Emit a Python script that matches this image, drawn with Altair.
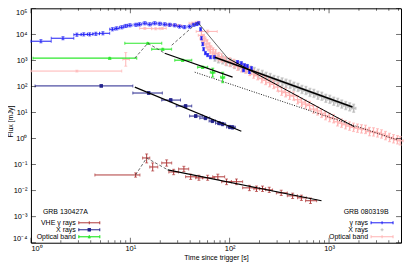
import altair as alt
import pandas as pd

# ---------------- data ----------------
# GRB 130427A -- VHE gamma rays (t [s], flux [mJy])
vhe_t   = [11.3, 14.6, 16.8, 23.2, 27.3, 34.6, 40.5, 49, 60, 76, 93, 117, 158, 186, 214, 250, 330, 430, 527, 650]
vhe_tlo = [4.4, 13.3, 15.7, 20.7, 24.4, 30.6, 36, 45.4, 53.5, 67.5, 83, 104, 135, 175, 200, 230, 295, 380, 482, 580]
vhe_thi = [12.5, 15.7, 18.9, 26.1, 30.6, 38.7, 46.5, 53.5, 70.7, 89, 104, 135, 186, 200, 230, 270, 380, 480, 590, 750]
vhe_F   = [0.040, 0.18, 0.081, 0.116, 0.052, 0.068, 0.034, 0.031, 0.031, 0.034, 0.022, 0.022, 0.0128, 0.0118, 0.0118, 0.0107, 0.0082, 0.0063, 0.0053, 0.0041]
vhe_Flo = [0.033, 0.116, 0.057, 0.087, 0.041, 0.054, 0.027, 0.025, 0.025, 0.027, 0.017, 0.017, 0.010, 0.0093, 0.0093, 0.0085, 0.0065, 0.0050, 0.0042, 0.0032]
vhe_Fhi = [0.048, 0.256, 0.116, 0.152, 0.066, 0.086, 0.043, 0.039, 0.039, 0.043, 0.028, 0.028, 0.016, 0.015, 0.015, 0.0135, 0.0104, 0.0080, 0.0067, 0.0052]

# GRB 130427A -- X rays
xr_t   = [5.1, 15.3, 25.5, 36, 45.5, 57, 67, 78, 85, 100, 107]
xr_tlo = [1.1, 10.6, 20.7, 29, 39.5, 50, 62, 72, 80, 93, 101]
xr_thi = [10.6, 21, 32, 41.5, 53.5, 63, 72, 84, 91, 107, 114]
xr_F   = [105, 56, 30, 17.7, 7.3, 6.1, 4.7, 3.9, 3.6, 2.8, 2.7]
xr_Flo = [96, 50, 26, 15.5, 6.4, 5.3, 4.1, 3.4, 3.1, 2.4, 2.3]
xr_Fhi = [115, 63, 34, 20, 8.3, 7.0, 5.4, 4.5, 4.1, 3.2, 3.1]

# GRB 130427A -- optical band
op_t   = [6.2, 15, 21.2, 33.6, 53.5, 67.5, 85]
op_tlo = [1.05, 8.8, 16.4, 28, 47.5, 64, 81]
op_thi = [11.6, 20.7, 26, 41.5, 60, 71, 89]
op_F   = [1220, 4570, 2700, 1020, 550, 354, 228]
op_Flo = [1150, 4300, 2500, 940, 500, 230, 140]
op_Fhi = [1300, 4850, 2900, 1100, 600, 500, 350]

# GRB 080319B -- gamma rays
g8_t   = [1.26, 2.1, 2.9, 3.4, 3.9, 4.5, 5.3, 6.6, 7.3, 8.2, 9.0, 9.9, 11.4, 12.4, 14.0, 15.7, 17.6, 19.8, 22.2, 24.9, 28, 31.3, 35, 39.5, 43.5, 46.6, 48.8, 51, 52, 53.5, 54.7, 57, 60, 64, 70, 120, 131, 141, 151, 166, 138, 158]
g8_tlo = [1.0, 1.6, 2.7, 3.2, 3.7, 4.2, 4.9, 6.2, 7.0, 7.8, 8.6, 9.4, 10.9, 11.9, 13.4, 15.0, 16.8, 19.0, 21.3, 23.9, 26.9, 30.0, 33.6, 38, 42, 45.5, 47.7, 50, 51.3, 52.7, 53.8, 55.9, 58.8, 62.7, 68.6, 117, 128, 138, 148, 163, 135, 155]
g8_thi = [1.6, 2.7, 3.2, 3.7, 4.2, 4.9, 6.2, 7.0, 7.7, 8.6, 9.4, 10.4, 11.9, 13.0, 14.6, 16.4, 18.4, 20.6, 23.1, 25.9, 29.1, 32.6, 36.4, 41, 45, 47.7, 50, 52, 52.7, 54.3, 55.6, 58.1, 61.2, 65.3, 71.4, 123, 134, 144, 154, 169, 141, 161]
g8_F   = [5450, 7100, 9700, 10000, 10000, 10500, 11000, 15700, 17000, 18700, 21000, 22300, 23300, 24300, 26700, 24300, 26700, 25500, 24300, 23300, 22300, 20000, 19000, 20000, 23300, 25000, 26700, 15700, 7100, 4200, 2700, 1900, 1600, 1330, 1330, 860, 780, 650, 600, 500, 420, 360]
g8_yerr_dex = 0.06

# GRB 080319B -- X rays (dense band)
x8_t = [71, 77, 85, 93, 102, 112, 123, 134, 147, 162, 177, 194, 213, 233, 256, 280, 307, 337, 369, 405, 444, 487, 534, 585, 642, 704, 772, 846, 928, 1018, 1116, 1224, 1342, 1472, 1614, 1770]
x8_F = [1330, 1150, 1050, 900, 830, 700, 620, 540, 490, 420, 375, 320, 290, 245, 220, 185, 170, 150, 132, 120, 102, 92, 77, 70, 59, 54, 46, 42, 35, 32, 27, 24.5, 21, 18.5, 16.5, 14.5]
x8_yerr_dex = 0.15
x8_terr_frac = 0.05

# GRB 080319B -- optical band: early points with explicit errors
p8e_t   = [2.9, 9.0, 14, 18, 21, 25, 30, 42, 47.7, 60]
p8e_tlo = [1.0, 8.4, 12.4, 16.4, 19.5, 23, 27.5, 39, 45, 46]
p8e_thi = [8.2, 9.8, 16.4, 20, 23, 27.5, 33, 45, 50, 75]
p8e_F   = [390, 1100, 17000, 16500, 17000, 23000, 22000, 26700, 29100, 13000]
p8e_Flo = [360, 600, 15500, 15000, 15500, 21000, 20000, 24000, 26000, 11500]
p8e_Fhi = [420, 2000, 18500, 18000, 18500, 25000, 24000, 29500, 32000, 14500]
# optical band decay (dense)
p8_t = [52, 54, 56, 59, 62, 64, 68, 72, 78, 83, 91, 100, 110, 120, 132, 145, 159, 174, 191, 210, 230, 252, 277, 304, 333, 365, 401, 440, 482, 529, 580, 637, 698, 766, 840, 922, 1011, 1109, 1217, 1335, 1465, 1607, 1763, 1934, 2122, 2328, 2554, 2802, 3074, 3373, 3700, 4059, 4453, 4885, 5200]
p8_F = [9200, 6800, 5600, 4300, 3300, 2600, 2100, 1800, 1400, 1250, 950, 870, 760, 600, 520, 460, 380, 300, 260, 200, 170, 140, 120, 95, 66, 58, 46, 43, 31, 25, 21, 18.5, 13.5, 11.5, 9.3, 7.6, 6.4, 5.8, 4.4, 3.9, 3.4, 3.0, 2.7, 2.5, 2.35, 2.25, 1.85, 1.8, 1.65, 1.5, 1.3, 1.1, 0.98, 0.9, 0.82]
p8_yerr_dex = 0.16
p8_terr_frac = 0.07

# model / fit lines (t, F)
vhe_fit_t, vhe_fit_F = [23.8, 840], [0.063, 0.0041]
vhe_rise_t, vhe_rise_F = [11.3, 14.6, 23.8], [0.040, 0.18, 0.063]
xr13_fit_t, xr13_fit_F = [11.1, 131], [94, 1.9]
op13_rise_t, op13_rise_F = [11.1, 15, 22.2], [1220, 4570, 1890]
op13_fit_t, op13_fit_F = [22.2, 107], [1890, 228]
xr08_fit_t, xr08_fit_F = [70.8, 1722], [1330, 16.1]
op08_rise_t, op08_rise_F = [26.1, 47.7], [3830, 29100]
op08_fall_t, op08_fall_F = [47.7, 95.5], [29100, 1220]
op08_fit_t, op08_fit_F = [95.5, 1805], [1220, 2.8]
dot_t, dot_F = [44.5, 4880], [354, 0.88]

# axis ticks
x_major = [1, 10, 100, 1000]
x_minor = [2, 3, 4, 5, 6, 7, 8, 9, 20, 30, 40, 50, 60, 70, 80, 90,
           200, 300, 400, 500, 600, 700, 800, 900, 2000, 3000, 4000, 5000]
y_major = [1e-4, 1e-3, 1e-2, 1e-1, 1, 10, 100, 1000, 1e4, 1e5]
X_MIN, X_MAX = 1, 5300
Y_MIN, Y_MAX = 1e-4, 1e5

# ---------------- styling ----------------
FONT = "Liberation Sans"
W, H = 371, 235
VHE_COL = "#b03a3a"
XR13_COL = "#22228c"
OP13_COL = "#2ee82e"
G8_COL = "#1c1cf5"
X8_COL = "#bdbdbd"
P8_COL = "#ffb4b4"

XS = alt.Scale(type="log", domain=[X_MIN, X_MAX], nice=False)
YS = alt.Scale(type="log", domain=[Y_MIN, Y_MAX], nice=False)
EXP = "round(log(datum.value)/LN10)"
SUP = "['⁰','¹','²','³','⁴','⁵','⁶','⁷','⁸','⁹']"
LABEL = f"'10' + ({EXP} < 0 ? '⁻' : '') + {SUP}[abs({EXP})]"

XAX = alt.Axis(values=x_major, labelExpr=LABEL, ticks=False, domain=False, grid=False,
               labelPadding=2, labelFontSize=7.5, labelFont=FONT, labelColor="black",
               title="Time since trigger [s]", titleFont=FONT, titleFontSize=7,
               titleFontWeight="normal", titleColor="black", titleY=15, titleBaseline="middle")
YAX = alt.Axis(values=y_major, labelExpr=LABEL, ticks=False, domain=False, grid=False,
               labelPadding=4, labelFontSize=7.5, labelFont=FONT, labelColor="black",
               labelFlush=True,
               title="Flux [mJy]", titleFont=FONT, titleFontSize=7, titleFontWeight="normal",
               titleColor="black", titleAngle=270, titleX=-20, titleY=113,
               titleBaseline="middle", titleAlign="center")


def X(f):
    return alt.X(f, type="quantitative", scale=XS, axis=XAX)


def Y(f):
    return alt.Y(f, type="quantitative", scale=YS, axis=YAX)


def err_df(t, tlo, thi, F, Flo, Fhi):
    return pd.DataFrame({"t": t, "tlo": tlo, "thi": thi, "F": F, "Flo": Flo, "Fhi": Fhi})


def rel_df(t, F, ydex, tfrac):
    f = 10 ** ydex
    return pd.DataFrame({"t": t, "tlo": [v * (1 - tfrac) for v in t], "thi": [v * (1 + tfrac) for v in t],
                         "F": F, "Flo": [v / f for v in F], "Fhi": [v * f for v in F]})


def errbars(df, color, sw=1.0, cap=0, opacity=1.0):
    b = alt.Chart(df)
    out = [
        b.mark_rule(color=color, strokeWidth=sw, opacity=opacity).encode(x=X("tlo"), x2="thi", y=Y("F")),
        b.mark_rule(color=color, strokeWidth=sw, opacity=opacity).encode(x=X("t"), y=Y("Flo"), y2="Fhi"),
    ]
    if cap:
        for f in ("tlo", "thi"):
            out.append(b.mark_tick(color=color, orient="vertical", size=cap, thickness=sw).encode(x=X(f), y=Y("F")))
        for f in ("Flo", "Fhi"):
            out.append(b.mark_tick(color=color, orient="horizontal", size=cap, thickness=sw).encode(x=X("t"), y=Y(f)))
    return out


def line(t, F, sw=1.0, dash=None, color="black"):
    kw = dict(color=color, strokeWidth=sw)
    if dash:
        kw["strokeDash"] = dash
    return alt.Chart(pd.DataFrame({"t": t, "F": F})).mark_line(**kw).encode(x=X("t"), y=Y("F"))


layers = []

# dense bands first
layers += errbars(rel_df(x8_t, x8_F, x8_yerr_dex, x8_terr_frac), X8_COL, sw=1.6, cap=3)
layers += errbars(rel_df(p8_t, p8_F, p8_yerr_dex, p8_terr_frac), P8_COL, sw=1.2, cap=3)
layers += errbars(err_df(p8e_t, p8e_tlo, p8e_thi, p8e_F, p8e_Flo, p8e_Fhi), P8_COL, sw=1.0, cap=3)

# GRB 080319B gamma
g8 = rel_df(g8_t, g8_F, g8_yerr_dex, 0)
g8["tlo"] = g8_tlo
g8["thi"] = g8_thi
layers += errbars(g8, G8_COL, sw=1.0, cap=3)

# model lines
layers.append(line(dot_t, dot_F, sw=0.9, dash=[1, 1.5]))
layers.append(line(xr08_fit_t, xr08_fit_F, sw=1.6))
layers.append(line(op08_fit_t, op08_fit_F, sw=1.0))
layers.append(line(op08_fall_t, op08_fall_F, sw=0.8, color="#444444"))
layers.append(line(op08_rise_t, op08_rise_F, sw=0.8, dash=[3, 2], color="#444444"))

# GRB 130427A
layers += errbars(err_df(op_t, op_tlo, op_thi, op_F, op_Flo, op_Fhi), OP13_COL, sw=1.2, cap=3)
layers.append(alt.Chart(pd.DataFrame({"t": op_t, "F": op_F})).mark_point(
    shape="triangle-up", filled=True, size=14, color=OP13_COL, opacity=1).encode(x=X("t"), y=Y("F")))
layers += errbars(err_df(xr_t, xr_tlo, xr_thi, xr_F, xr_Flo, xr_Fhi), XR13_COL, sw=1.0, cap=3)
layers.append(alt.Chart(pd.DataFrame({"t": xr_t, "F": xr_F})).mark_point(
    shape="square", filled=True, size=12, color=XR13_COL, opacity=1).encode(x=X("t"), y=Y("F")))
layers += errbars(err_df(vhe_t, vhe_tlo, vhe_thi, vhe_F, vhe_Flo, vhe_Fhi), VHE_COL, sw=1.0, cap=3)

layers.append(line(op13_rise_t, op13_rise_F, sw=0.8, dash=[3, 2], color="#444444"))
layers.append(line(op13_fit_t, op13_fit_F, sw=1.2))
layers.append(line(xr13_fit_t, xr13_fit_F, sw=1.2))
layers.append(line(vhe_rise_t, vhe_rise_F, sw=0.8, dash=[3, 2], color="#444444"))
layers.append(line(vhe_fit_t, vhe_fit_F, sw=1.2))


# inward frame ticks
def frame_ticks(tvals, Fvals, orient, size, xo=0, yo=0):
    df = pd.DataFrame({"t": tvals, "F": Fvals})
    return alt.Chart(df).mark_tick(orient=orient, size=size, thickness=0.8, color="black",
                                   xOffset=xo, yOffset=yo).encode(x=X("t"), y=Y("F"))


layers.append(frame_ticks(x_major, [Y_MIN] * len(x_major), "vertical", 5, yo=-2.5))
layers.append(frame_ticks(x_major, [Y_MAX] * len(x_major), "vertical", 5, yo=2.5))
layers.append(frame_ticks(x_minor, [Y_MIN] * len(x_minor), "vertical", 2.5, yo=-1.25))
layers.append(frame_ticks(x_minor, [Y_MAX] * len(x_minor), "vertical", 2.5, yo=1.25))
layers.append(frame_ticks([X_MIN] * len(y_major), y_major, "horizontal", 5, xo=2.5))
layers.append(frame_ticks([X_MAX] * len(y_major), y_major, "horizontal", 5, xo=-2.5))

# ---------------- legends (inside plot) ----------------
ONE = pd.DataFrame({"label": ["x"]})


def ltext(label, x, y, align):
    return alt.Chart(pd.DataFrame({"label": [label]})).mark_text(
        align=align, baseline="middle", font=FONT, fontSize=7, color="black").encode(
        x=alt.value(x), y=alt.value(y), text="label:N")


def lsample(color, y, x1, x2, marker=None, bar=True, sw=1.0):
    out = []
    xc = (x1 + x2) / 2
    if bar:
        out.append(alt.Chart(ONE).mark_rule(color=color, strokeWidth=sw).encode(
            x=alt.value(x1), x2=alt.value(x2), y=alt.value(y)))
        for xx in (x1, x2):
            out.append(alt.Chart(ONE).mark_rule(color=color, strokeWidth=sw).encode(
                x=alt.value(xx), y=alt.value(y - 1.5), y2=alt.value(y + 1.5)))
    else:
        out.append(alt.Chart(ONE).mark_rule(color=color, strokeWidth=sw).encode(
            x=alt.value(xc - 1.5), x2=alt.value(xc + 1.5), y=alt.value(y)))
    out.append(alt.Chart(ONE).mark_rule(color=color, strokeWidth=sw).encode(
        x=alt.value(xc), y=alt.value(y - 1.5), y2=alt.value(y + 1.5)))
    if marker:
        out.append(alt.Chart(ONE).mark_point(shape=marker, filled=True, size=12, color=color, opacity=1).encode(
            x=alt.value(xc), y=alt.value(y)))
    return out


ROWS = [215, 222, 229]
layers.append(ltext("GRB 130427A", 34.5, 204, "center"))
layers.append(ltext("VHE γ rays", 45, ROWS[0], "right"))
layers.append(ltext("X rays", 45, ROWS[1], "right"))
layers.append(ltext("Optical band", 45, ROWS[2], "right"))
layers += lsample(VHE_COL, ROWS[0], 48, 69)
layers += lsample(XR13_COL, ROWS[1], 48, 69, marker="square")
layers += lsample(OP13_COL, ROWS[2], 48, 69, marker="triangle-up", sw=1.2)

layers.append(ltext("GRB 080319B", 336, 204, "center"))
layers.append(ltext("γ rays", 338, ROWS[0], "right"))
layers.append(ltext("X rays", 338, ROWS[1], "right"))
layers.append(ltext("Optical band", 338, ROWS[2], "right"))
layers += lsample(G8_COL, ROWS[0], 341, 363)
layers += lsample(X8_COL, ROWS[1], 341, 363, bar=False)
layers += lsample(P8_COL, ROWS[2], 341, 363)

chart = alt.layer(*layers).properties(
    width=W, height=H,
    padding={"left": 23, "top": 0, "right": 6, "bottom": 22},
    autosize=alt.AutoSizeParams(type="none"),
).configure(background="white", font=FONT).configure_view(stroke="black", strokeWidth=1)

chart.save("out.html", embed_options={"renderer": "svg", "actions": False})
